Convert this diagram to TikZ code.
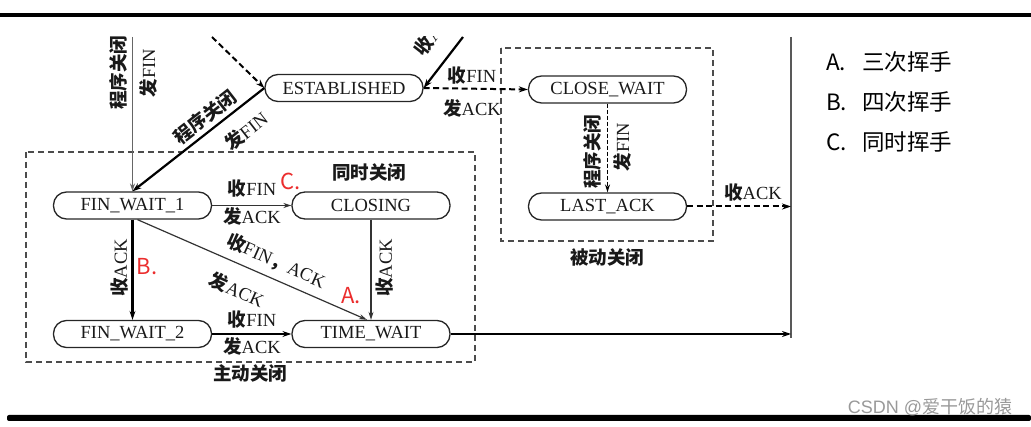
\documentclass[tikz,border=0pt]{standalone}
\usepackage{fontspec}
\setmainfont{Liberation Serif}
\newfontfamily\cjk{Noto Sans CJK SC}
\newfontfamily\lsans{Liberation Sans}
\usetikzlibrary{arrows.meta}
\newcommand{\zh}[1]{{\cjk\bfseries #1}}
\definecolor{mark}{RGB}{235,45,45}
\begin{document}
\begin{tikzpicture}[x=1pt,y=-1pt,
  st/.style={draw=black!85, line width=1.3pt, rounded corners=13pt, minimum width=158pt, minimum height=27pt, inner sep=0pt, font=\fontsize{18.5}{20}\selectfont, text=black!90},
  lbl/.style={font=\fontsize{18.5}{20}\selectfont, inner sep=0pt, text=black!90},
  thickarr/.style={line width=2.2pt, -{Stealth[length=9pt,width=6pt]}},
  thinarr/.style={line width=1.2pt, draw=black!80, -{Stealth[length=8pt,width=5pt]}},
  dasharr/.style={line width=2pt, dash pattern=on 6pt off 3.5pt, -{Stealth[length=9pt,width=6pt]}},
  dashthin/.style={line width=1.3pt, dash pattern=on 4pt off 2pt, -{Stealth[length=8pt,width=5pt]}},
  grp/.style={draw=black!70, line width=1.3pt, dash pattern=on 6pt off 4pt},
  marklbl/.style={font=\cjk\fontsize{22}{24}\selectfont, text=mark, inner sep=0pt},
  legend/.style={font=\cjk\fontsize{22.5}{24}\selectfont, anchor=west, inner sep=0pt, text=black}
]
\useasboundingbox (0,0) rectangle (1031,427);
% bars
\fill (0,13) rectangle (1031,17.5);
\fill[rounded corners=2pt] (7,415) rectangle (1031,421);
% group boxes
\draw[grp] (26,152) rectangle (475,362);
\draw[grp] (501,48) rectangle (713,241);
\node[lbl] (gsim) at (369,172) {\zh{同时关闭}};
\node[lbl] (gact) at (250,373) {\zh{主动关闭}};
\node[lbl] (gpas) at (607,257) {\zh{被动关闭}};
% states
\node[st] (est) at (344,88) {ESTABLISHED};
\node[st] (cw) at (607.5,89.5) {CLOSE\_WAIT};
\node[st] (la) at (607.5,206.5) {LAST\_ACK};
\node[st] (fw1) at (132.5,205.5) {FIN\_WAIT\_1};
\node[st] (cl) at (371,205.5) {CLOSING};
\node[st] (fw2) at (132.5,334) {FIN\_WAIT\_2};
\node[st] (tw) at (371,334) {TIME\_WAIT};
% free ends
\coordinate (tl) at (132.5,37);
\coordinate (dtop) at (212,37);
\coordinate (rtop) at (463,37);
\coordinate (vtop) at (791,37);
\coordinate (vbot) at (791,338);
\coordinate (la2) at (791,206.5);
\coordinate (tw2) at (791,334);
% connectors
\draw[line width=1.8pt, draw=black!65] (vtop) -- (vbot);
\draw[thinarr, draw=black!60] (tl) -- (fw1.north);
\draw[dasharr] (dtop) -- (est.west);
\draw[thickarr] (est.west) -- (fw1.north);
\draw[thickarr] (rtop) -- (est.east);
\draw[dasharr] (est.east) -- (cw.west);
\draw[dashthin] (cw.south) -- (la.north);
\draw[dasharr] (la.east) -- (la2);
\draw[thinarr] (fw1.east) -- (cl.west);
\draw[thickarr] (fw1.south) -- (fw2.north);
\draw[thinarr] ([xshift=5pt]fw1.south) -- ([xshift=-4pt]tw.north);
\draw[thinarr] (cl.south) -- (tw.north);
\draw[thickarr] (fw2.east) -- (tw.west);
\draw[thickarr] (tw.east) -- (tw2);
% labels
\node[lbl, rotate=90] (l1) at (118,73) {\zh{程序关闭}};
\node[lbl, rotate=90] (l2) at (148,73) {\zh{发}FIN};
\node[lbl, rotate=38] (l3) at (205,117) {\zh{程序关闭}};
\node[lbl, rotate=38] (l4) at (246,131) {\zh{发}FIN};
\begin{scope}
\clip (0,37) rectangle (1031,427);
\node[lbl, rotate=52, anchor=west] (l5) at (418,53) {\zh{收}ACK};
\end{scope}
\node[lbl] (l6) at (472,76) {\zh{收}FIN};
\node[lbl] (l7) at (472,108) {\zh{发}ACK};
\node[lbl, rotate=90] (l8) at (592,152) {\zh{程序关闭}};
\node[lbl, rotate=90] (l9) at (622,147) {\zh{发}FIN};
\node[lbl] (l10) at (753,193) {\zh{收}ACK};
\node[lbl] (l11) at (252,189) {\zh{收}FIN};
\node[lbl] (l12) at (252,216) {\zh{发}ACK};
\node[lbl, rotate=90] (l13) at (120,268) {\zh{收}ACK};
\node[lbl, rotate=-24] (l14) at (276,261) {\zh{收}FIN\zh{，}ACK};
\node[lbl, rotate=-24] (l15) at (237,290) {\zh{发}ACK};
\node[lbl, rotate=90] (l16) at (385,268) {\zh{收}ACK};
\node[lbl] (l17) at (252,320) {\zh{收}FIN};
\node[lbl] (l18) at (252,346) {\zh{发}ACK};
% red marks
\node[marklbl] (mc) at (291,181) {C.};
\node[marklbl] (mb) at (147,267) {B.};
\node[marklbl] (ma) at (351,296) {A.};
% legend
\node[legend] (ka) at (826,62) {A.};
\node[legend] (kat) at (862,62) {三次挥手};
\node[legend] (kb) at (826,102) {B.};
\node[legend] (kbt) at (862,102) {四次挥手};
\node[legend] (kc) at (826,142) {C.};
\node[legend] (kct) at (862,142) {同时挥手};
% watermark
\node[font=\fontsize{18}{20}\selectfont, text=black!40, inner sep=0pt] (wm) at (930,407) {\lsans CSDN @{\cjk 爱干饭的猿}};
\end{tikzpicture}
\end{document}
